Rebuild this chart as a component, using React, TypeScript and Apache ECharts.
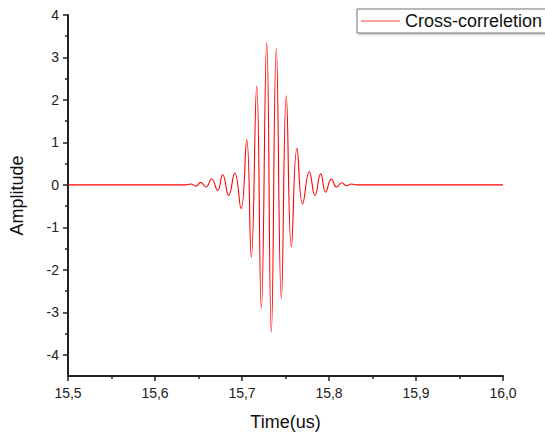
import React, { useEffect, useRef } from "react";
import * as echarts from "echarts";

const times: number[] = [
  15.5, 15.635, 15.641, 15.647, 15.6525, 15.6586, 15.6651, 15.672, 15.6778, 15.6847,
  15.6916, 15.6989, 15.7054, 15.7107, 15.7169, 15.7222, 15.7284, 15.7337, 15.7394,
  15.7452, 15.7509, 15.7567, 15.7632, 15.7697, 15.7774, 15.7839, 15.7904, 15.7962,
  15.8027, 15.8088, 15.8146, 15.82, 15.826, 15.832, 16.0,
];
const amplitudes: number[] = [
  0, 0, 0.02, -0.03, 0.06, -0.05, 0.14, -0.13, 0.24, -0.25,
  0.28, -0.56, 1.06, -1.7, 2.33, -2.91, 3.35, -3.47, 3.21,
  -2.68, 2.1, -1.46, 0.86, -0.45, 0.31, -0.25, 0.26, -0.17,
  0.14, -0.05, 0.05, -0.02, 0.02, 0, 0,
];
const yMajorTicks: number[] = [-4, -3, -2, -1, 0, 1, 2, 3, 4];
const yMinorTicks: number[] = [-3.5, -2.5, -1.5, -0.5, 0.5, 1.5, 2.5, 3.5];
const seriesName = "Cross-correletion";
const xTitle = "Time(us)";
const yTitle = "Amplitude";

export default function App() {
  const ref = useRef<HTMLDivElement>(null);
  useEffect(() => {
    if (!ref.current) return;
    const chart = echarts.init(ref.current, null, { renderer: "svg" });
    const font = "'Liberation Sans', Arial, sans-serif";
    chart.setOption({
      animation: false,
      backgroundColor: "#fff",
      textStyle: { fontFamily: font },
      grid: { left: 68, right: 42, top: 15, bottom: 59 },
      legend: {
        data: [seriesName],
        left: 357,
        top: 9,
        orient: "vertical",
        itemWidth: 39,
        itemHeight: 2,
        itemGap: 0,
        padding: [3, 12, 3, 4],
        borderColor: "#777",
        borderWidth: 1,
        shadowColor: "rgba(0,0,0,0.3)",
        shadowOffsetX: 1,
        shadowOffsetY: 1,
        shadowBlur: 2,
        backgroundColor: "#fff",
        icon: "rect",
        textStyle: { fontSize: 18, color: "#111", fontFamily: font, overflow: "none" },
      },
      xAxis: {
        type: "value",
        min: 15.5,
        max: 16.0,
        interval: 0.1,
        name: xTitle,
        nameLocation: "middle",
        nameGap: 37,
        nameTextStyle: { fontSize: 18, color: "#111", fontFamily: font },
        axisLine: { show: true, onZero: false, lineStyle: { color: "#222", width: 2 } },
        axisTick: { show: true, inside: false, length: 5, lineStyle: { color: "#222", width: 1.5 } },
        minorTick: { show: true, splitNumber: 2, length: 3, lineStyle: { color: "#222", width: 1.5 } },
        splitLine: { show: false },
        minorSplitLine: { show: false },
        axisLabel: {
          fontSize: 14,
          color: "#222",
          margin: 10,
          formatter: (v: number) => v.toFixed(1).replace(".", ","),
        },
      },
      yAxis: [
        {
          type: "value",
          min: -4.5,
          max: 4,
          name: yTitle,
          nameLocation: "middle",
          nameGap: 42,
          nameRotate: 90,
          nameTextStyle: { fontSize: 18, color: "#111", fontFamily: font },
          axisLine: { show: true, onZero: false, lineStyle: { color: "#222", width: 2 } },
          axisTick: {
            show: true,
            length: 5,
            customValues: yMajorTicks,
            lineStyle: { color: "#222", width: 1.5 },
          },
          axisLabel: {
            fontSize: 14,
            color: "#222",
            margin: 9,
            customValues: yMajorTicks,
          },
          splitLine: { show: false },
        },
        {
          type: "value",
          min: -4.5,
          max: 4,
          position: "left",
          axisLine: { show: false, onZero: false },
          axisTick: {
            show: true,
            length: 3,
            customValues: yMinorTicks,
            lineStyle: { color: "#222", width: 1.5 },
          },
          axisLabel: { show: false },
          splitLine: { show: false },
        },
      ],
      series: [
        {
          name: seriesName,
          type: "line",
          yAxisIndex: 0,
          data: times.map((t, i) => [t, amplitudes[i]]),
          showSymbol: false,
          smooth: 0.5,
          lineStyle: { color: "#ff0000", width: 1.1 },
          itemStyle: { color: "#ffa0a0" },
        },
      ],
    });
    return () => chart.dispose();
  }, []);
  return (
    <div
      ref={ref}
      style={{ position: "absolute", left: 0, top: 0, width: 545, height: 436, overflow: "hidden" }}
    />
  );
}
